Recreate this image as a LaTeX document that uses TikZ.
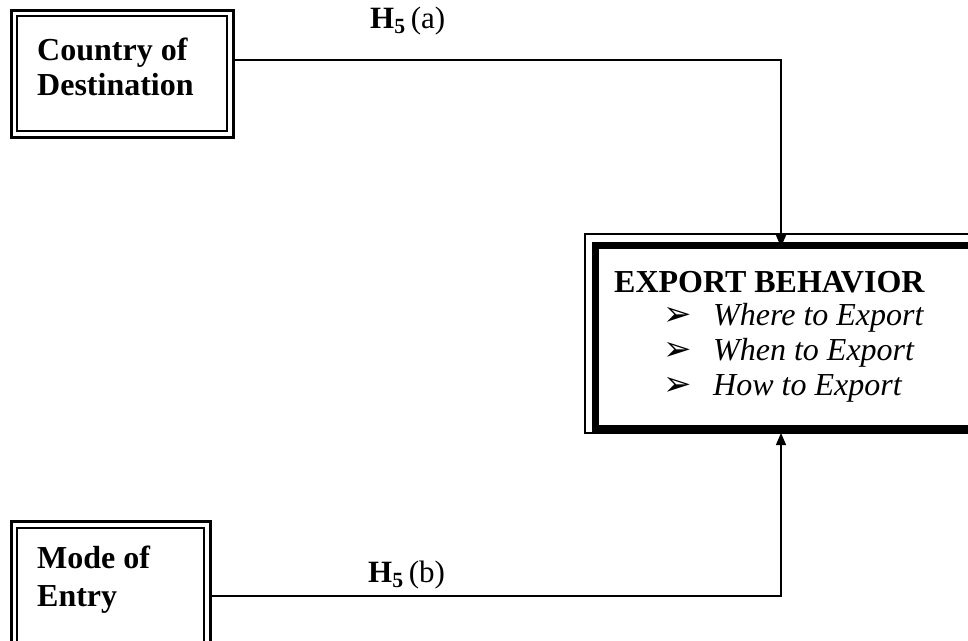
\documentclass[tikz,border=0pt]{standalone}
\usepackage{fontspec}
\setmainfont{Liberation Serif}
\newfontfamily\dingfont{DejaVu Sans}
\usetikzlibrary{arrows.meta,calc}
\begin{document}
\begin{tikzpicture}[x=1pt,y=-1pt,
  txt/.style={anchor=base west,inner sep=0pt,font=\fontsize{31}{35}\selectfont},
  btxt/.style={txt,font=\fontsize{32}{35}\selectfont\bfseries},
  itxt/.style={txt,font=\fontsize{32}{35}\selectfont\itshape},
  bul/.style={txt,font=\fontsize{34}{35}\selectfont\dingfont},
  outerbox/.style={draw,line width=2.6pt,anchor=north west,inner sep=0pt},
  innerbox/.style={draw,line width=1.6pt,anchor=north west,inner sep=0pt},
  conn/.style={line width=1.3pt},
  arr/.style={conn,-{Triangle[length=12pt,width=10pt]}}]
\useasboundingbox (0,0) rectangle (968,640);
\begin{scope}
\clip (0,0) rectangle (968,640);
% Country of Destination box
\node[outerbox,minimum width=222pt,minimum height=127pt] (cod) at (10,9) {};
\node[innerbox,minimum width=210pt,minimum height=115pt] (codi) at (16,15) {};
\node[btxt] (cod1) at (37,60) {Country of};
\node[btxt] (cod2) at (37,95) {Destination};
% Mode of Entry box
\node[outerbox,minimum width=199pt,minimum height=140pt] (moe) at (10,520) {};
\node[innerbox,minimum width=187pt,minimum height=140pt] (moei) at (16,527) {};
\node[btxt] (moe1) at (37,568) {Mode of};
\node[btxt] (moe2) at (37,606) {Entry};
% Export behaviour box
\node[draw,line width=1.8pt,anchor=north west,inner sep=0pt,minimum width=400pt,minimum height=199pt] (eb) at (584,233) {};
\node[draw,line width=7pt,anchor=north west,inner sep=0pt,minimum width=390pt,minimum height=183pt] (ebi) at (591.5,241.5) {};
\node[btxt] (ebt) at (614,292) {EXPORT BEHAVIOR};
\node[bul] (b1) at (663,325) {➢};
\node[bul] (b2) at (663,360) {➢};
\node[bul] (b3) at (663,395) {➢};
\node[itxt] (w1) at (713,325) {Where to Export};
\node[itxt] (w2) at (713,360) {When to Export};
\node[itxt] (w3) at (713,395) {How to Export};
% labels
\node[txt] (ha) at (370,28) {\textbf{H\textsubscript{5}}\,(a)};
\node[txt] (hb) at (368,582) {\textbf{H\textsubscript{5}}\,(b)};
% connectors
\coordinate (s1) at (232,60);
\coordinate (t1) at (781,247);
\coordinate (s2) at (209,596);
\coordinate (t2) at (781,433);
\draw[arr] (s1) -- (s1 -| t1) -- (t1);
\draw[arr] (s2) -- (s2 -| t2) -- (t2);
\end{scope}
\end{tikzpicture}
\end{document}
